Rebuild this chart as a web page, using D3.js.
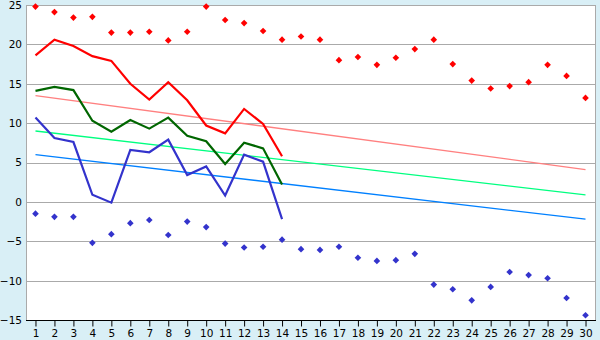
<!DOCTYPE html>
<html>
<head>
<meta charset="utf-8">
<script src="https://cdn.jsdelivr.net/npm/d3@7"></script>
<style>
  body { margin: 0; background: #d9eff6; }
  svg { display: block; font-family: "DejaVu Sans", sans-serif; }
</style>
</head>
<body>
<div id="chart"></div>
<script>
const days = d3.range(1, 31);
const yTicks = [-15, -10, -5, 0, 5, 10, 15, 20, 25];

const redPoints = [24.8, 24.1, 23.4, 23.5, 21.5, 21.5, 21.6, 20.5, 21.6, 24.8,
                   23.1, 22.7, 21.7, 20.6, 21.0, 20.6, 18.0, 18.4, 17.4, 18.3,
                   19.4, 20.6, 17.5, 15.4, 14.4, 14.7, 15.2, 17.4, 16.0, 13.2];
const bluePoints = [-1.5, -1.9, -1.9, -5.2, -4.1, -2.7, -2.3, -4.2, -2.5, -3.2,
                    -5.3, -5.8, -5.7, -4.8, -6.0, -6.1, -5.7, -7.1, -7.5, -7.4,
                    -6.6, -10.5, -11.1, -12.5, -10.8, -8.9, -9.3, -9.7, -12.2, -14.4];

const redLine = [18.6, 20.6, 19.8, 18.5, 17.9, 15.0, 13.0, 15.2, 12.9, 9.7, 8.7, 11.8, 9.9, 5.8];
const greenLine = [14.1, 14.6, 14.2, 10.3, 8.9, 10.4, 9.3, 10.7, 8.4, 7.7, 4.8, 7.5, 6.8, 2.2];
const blueLine = [10.7, 8.1, 7.6, 0.9, -0.1, 6.6, 6.3, 7.9, 3.4, 4.5, 0.8, 6.0, 5.1, -2.2];

// straight trend lines, start (day 1) and end (day 30)
const pinkTrend = [[1, 13.5], [30, 4.1]];
const greenTrend = [[1, 9.0], [30, 0.9]];
const blueTrend = [[1, 6.0], [30, -2.2]];

const W = 600, H = 340;
const plot = { left: 26, right: 595, top: 5, bottom: 320 };

const svg = d3.select("#chart").append("svg")
    .attr("width", W).attr("height", H);

svg.append("rect")
    .attr("x", plot.left).attr("y", plot.top)
    .attr("width", plot.right - plot.left).attr("height", plot.bottom - plot.top)
    .attr("fill", "#fff");

const x = d3.scalePoint().domain(days).range([plot.left, plot.right]).padding(0.5);
const y = d3.scaleLinear().domain([-15, 25]).range([plot.bottom, plot.top]);

// gridlines
svg.append("g")
    .selectAll("line")
    .data(yTicks)
    .enter().append("line")
    .attr("x1", plot.left).attr("x2", plot.right)
    .attr("y1", d => Math.round(y(d)) + 0.5).attr("y2", d => Math.round(y(d)) + 0.5)
    .attr("stroke", "#aaa");

// frame
svg.append("rect")
    .attr("x", plot.left + 0.5).attr("y", plot.top + 0.5)
    .attr("width", plot.right - plot.left).attr("height", plot.bottom - plot.top)
    .attr("fill", "none").attr("stroke", "#aaa");

// y labels
svg.append("g")
    .attr("transform", `translate(${plot.left - 4},0)`)
    .call(d3.axisLeft(y).tickValues(yTicks).tickSize(0).tickPadding(0).tickFormat(d3.format("d")))
    .call(g => g.select(".domain").remove())
    .selectAll("text")
    .attr("fill", "#000")
    .style("font-size", "10.5px")
    .style("font-family", "DejaVu Sans, sans-serif");

// x axis
const xAxis = svg.append("g")
    .attr("transform", `translate(0,${plot.bottom + 0.5})`)
    .call(d3.axisBottom(x).tickSize(6).tickPadding(3))
    .call(g => g.select(".domain").attr("d", `M${plot.left},0H${plot.right + 1}`).attr("stroke", "#000"));
xAxis.selectAll(".tick line").attr("stroke", "#000");
xAxis.selectAll("text")
    .attr("fill", "#000")
    .style("font-size", "10.5px")
    .style("font-family", "DejaVu Sans, sans-serif");

// trend lines
const trendLine = d3.line().x(d => x(d[0])).y(d => y(d[1]));
[[pinkTrend, "#ff8080"], [greenTrend, "#00ff80"], [blueTrend, "#0080ff"]].forEach(([data, color]) => {
    svg.append("path")
        .datum(data)
        .attr("d", trendLine)
        .attr("fill", "none")
        .attr("stroke", color)
        .attr("stroke-width", 1.3);
});

// main lines
const seriesLine = d3.line().x((d, i) => x(days[i])).y(d => y(d));
[[redLine, "#ff0000"], [greenLine, "#006600"], [blueLine, "#3333cc"]].forEach(([data, color]) => {
    svg.append("path")
        .datum(data)
        .attr("d", seriesLine)
        .attr("fill", "none")
        .attr("stroke", color)
        .attr("stroke-width", 2.2);
});

// point markers: small square diamonds
const marker = d3.symbol().type(d3.symbolSquare).size(22);
[[redPoints, "#ff0000"], [bluePoints, "#3333cc"]].forEach(([data, color]) => {
    svg.append("g")
        .selectAll("path")
        .data(data)
        .enter().append("path")
        .attr("d", marker)
        .attr("transform", (d, i) => `translate(${x(days[i])},${y(d)}) rotate(45)`)
        .attr("fill", color);
});
</script>
</body>
</html>
